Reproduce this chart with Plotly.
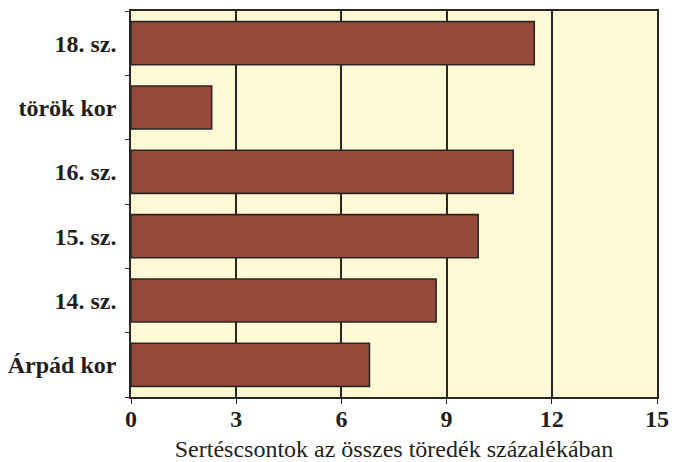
import plotly.graph_objects as go

# Periods (bottom to top) and the share of pig bristle pottery fragments
periods = ["Árpád kor", "14. sz.", "15. sz.", "16. sz.", "török kor", "18. sz."]
shares = [6.8, 8.7, 9.9, 10.9, 2.3, 11.5]
x_ticks = [0, 3, 6, 9, 12, 15]

bar_fill = "#964a3a"
edge = "#2b2623"
panel = "#fff9d6"
serif = "Liberation Serif, serif"

fig = go.Figure(
    go.Bar(
        y=periods,
        x=shares,
        orientation="h",
        marker=dict(color=bar_fill, line=dict(color=edge, width=1.6)),
        hoverinfo="x+y",
    )
)

fig.update_layout(
    width=674,
    height=462,
    margin=dict(l=131, r=17, t=11, b=65),
    paper_bgcolor="white",
    plot_bgcolor=panel,
    bargap=0.33,
    showlegend=False,
    font=dict(family=serif, color="#231f20"),
)

fig.update_xaxes(
    automargin=False,
    range=[0, 15],
    tickvals=x_ticks,
    ticktext=[str(v) for v in x_ticks],
    tickfont=dict(size=24, family=serif, weight="bold"),
    ticklabelstandoff=-6,
    showgrid=True,
    gridcolor=edge,
    gridwidth=1.5,
    showline=True,
    linecolor=edge,
    linewidth=1.5,
    mirror=True,
    ticks="outside",
    ticklen=5,
    tickcolor=edge,
    zeroline=False,
    title=dict(
        text="Sertéscsontok az összes töredék százalékában",
        font=dict(size=24, family=serif),
        standoff=18,
    ),
)

fig.update_yaxes(
    automargin=False,
    categoryorder="array",
    categoryarray=periods,
    tickson="boundaries",
    ticks="outside",
    ticklen=4,
    tickcolor=edge,
    showgrid=False,
    showline=True,
    linecolor=edge,
    linewidth=1.5,
    mirror=True,
    tickfont=dict(size=24, family=serif, weight="bold"),
    ticklabelstandoff=8,
)

fig.write_html("out.html")
